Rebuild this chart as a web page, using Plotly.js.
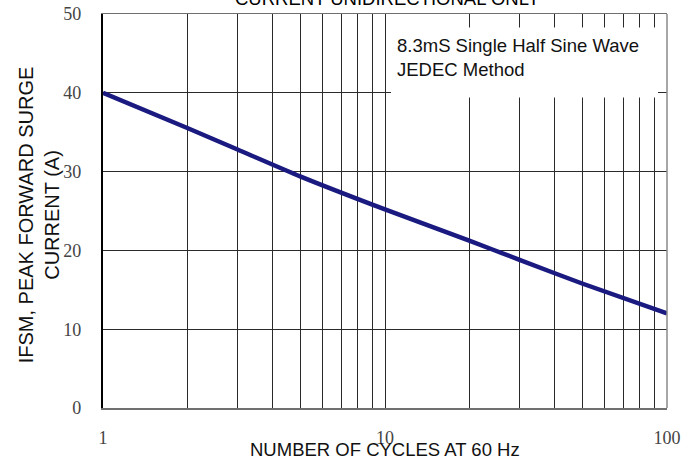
<!DOCTYPE html>
<html>
<head>
<meta charset="utf-8">
<script src="https://cdn.plot.ly/plotly-3.0.1.min.js"></script>
<style>html,body{margin:0;padding:0;background:#fff;}#chart{width:694px;height:467px;}</style>
</head>
<body>
<div id="chart"></div>
<script>
// Data
var cycles = [1, 2, 3, 5, 10, 20, 30, 50, 100];
var surgeCurrent = [40, 35.5, 32.8, 29.4, 25.2, 21.2, 18.8, 15.8, 12];

var xGridVals = [1, 2, 3, 4, 5, 6, 7, 8, 9, 10, 20, 30, 40, 50, 60, 70, 80, 90, 100];
var xLabelVals = [1, 10, 100];
var yTickVals = [0, 10, 20, 30, 40, 50];

var chartTitle = "CURRENT UNIDIRECTIONAL ONLY";
var xTitle = "NUMBER OF CYCLES AT 60 Hz";
var yTitle = "IFSM, PEAK FORWARD SURGE<br>CURRENT (A)";
var noteText = "8.3mS Single Half Sine Wave<br>JEDEC Method";

var xTickText = xGridVals.map(function (v) {
  return xLabelVals.indexOf(v) >= 0 ? String(v) : "";
});

var sans = "Liberation Sans, Arial, sans-serif";
var serif = "Liberation Serif, Times New Roman, serif";

var trace = {
  x: cycles,
  y: surgeCurrent,
  type: "scatter",
  mode: "lines",
  line: {color: "#1a1a80", width: 4.5, shape: "spline", smoothing: 0.6},
  hoverinfo: "skip",
  showlegend: false
};

var layout = {
  width: 694,
  height: 467,
  margin: {l: 103, r: 27, t: 14, b: 59},
  paper_bgcolor: "#ffffff",
  plot_bgcolor: "#ffffff",
  showlegend: false,
  xaxis: {
    type: "log",
    range: [0, 2],
    tickmode: "array",
    tickvals: xGridVals,
    ticktext: xTickText,
    ticks: "",
    showgrid: true,
    gridcolor: "#2a2a2a",
    gridwidth: 1,
    zeroline: false,
    showline: true,
    linecolor: "#707070",
    linewidth: 1.5,
    mirror: true,
    tickfont: {family: serif, size: 18, color: "#444"},
    ticklabelstandoff: 13,
    fixedrange: true
  },
  yaxis: {
    range: [0, 50],
    tickmode: "array",
    tickvals: yTickVals,
    ticks: "",
    showgrid: true,
    gridcolor: "#2a2a2a",
    gridwidth: 1,
    zeroline: false,
    showline: true,
    linecolor: "#000",
    linewidth: 2.2,
    tickfont: {family: serif, size: 18, color: "#444"},
    ticklabelstandoff: 16,
    fixedrange: true
  },
  shapes: [
    {type: "line", xref: "paper", yref: "paper", x0: 1, x1: 1, y0: 0, y1: 1,
     line: {color: "#8a8a8a", width: 1.5}, layer: "above"},
    {type: "rect", xref: "paper", yref: "paper",
     x0: 0.5106, x1: 0.9840, y0: 0.788, y1: 0.966,
     fillcolor: "#ffffff", line: {width: 0}, layer: "above"}
  ],
  annotations: [
    {text: chartTitle, xref: "paper", yref: "paper", x: 0.505, y: 1,
     xanchor: "center", yanchor: "middle", yshift: 16, showarrow: false,
     font: {family: sans, size: 18.5, color: "#000"}},
    {text: noteText, xref: "paper", yref: "paper", x: 0.517, y: 0.953,
     xanchor: "left", yanchor: "top", align: "left", showarrow: false,
     font: {family: sans, size: 18.5, color: "#111"}},
    {text: xTitle, xref: "paper", yref: "paper", x: 0.5, y: 0,
     xanchor: "center", yanchor: "middle", yshift: -41, showarrow: false,
     font: {family: sans, size: 18.5, color: "#111"}},
    {text: yTitle, xref: "paper", yref: "paper", x: 0, y: 0.489,
     xanchor: "center", yanchor: "middle", xshift: -64, textangle: -90,
     showarrow: false,
     font: {family: sans, size: 20, color: "#111"}}
  ]
};

Plotly.newPlot("chart", [trace], layout, {staticPlot: true, displayModeBar: false});
</script>
</body>
</html>
